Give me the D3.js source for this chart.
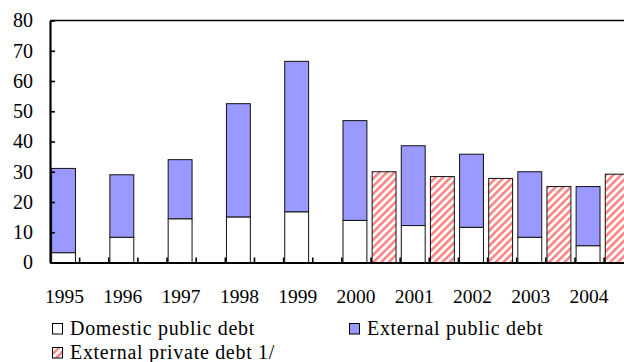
<!DOCTYPE html>
<html>
<head>
<meta charset="utf-8">
<script src="https://cdn.jsdelivr.net/npm/d3@7"></script>
<style>
  html, body { margin: 0; padding: 0; background: #fff; overflow: hidden; }
  svg { display: block; }
  svg text { font-family: 'Liberation Serif', 'Times New Roman', 'DejaVu Serif', serif !important; }
</style>
</head>
<body>
<svg id="chart" width="624" height="362"></svg>
<script>
// Debt stock by year (percent of GDP)
const years = [1995, 1996, 1997, 1998, 1999, 2000, 2001, 2002, 2003, 2004];
const domesticPublic = [3.2, 8.3, 14.4, 15.0, 16.7, 13.9, 12.2, 11.6, 8.3, 5.5];
const externalPublic = [27.9, 20.7, 19.6, 37.5, 49.8, 33.0, 26.4, 24.2, 21.7, 19.6];
const externalPrivate = [null, null, null, null, null, 30.0, 28.4, 27.8, 25.1, 29.2];
const yTicks = [0, 10, 20, 30, 40, 50, 60, 70, 80];
const legendLabels = ["Domestic public debt", "External public debt", "External private debt 1/"];

const SERIF = "'Liberation Serif', 'Times New Roman', 'DejaVu Serif', serif";
const svg = d3.select("#chart").style("font-family", SERIF);

const plot = { left: 50, right: 632.8, top: 20.5, bottom: 262.5 };

// Two slots per year: public (stacked) and private
const slots = d3.range(years.length * 2);
const x = d3.scaleBand().domain(slots).range([plot.left, plot.right]).padding(0);
const step = x.step();
const barOffset = step * 0.055;
const barW = step * 0.82;

const y = d3.scaleLinear().domain([0, 80]).range([plot.bottom, plot.top]);

// Hatch pattern for private debt
const defs = svg.append("defs");
const pat = defs.append("pattern")
  .attr("id", "hatch")
  .attr("patternUnits", "userSpaceOnUse")
  .attr("width", 5.4)
  .attr("height", 10)
  .attr("patternTransform", "rotate(45)");
pat.append("rect").attr("width", 5.4).attr("height", 10).attr("fill", "#fff");
pat.append("rect").attr("width", 2.6).attr("height", 10).attr("fill", "#ff8585");

const FILL_DOM = "#ffffff";
const FILL_EXT = "#9999ff";
const STROKE = "#111";

// Stacked public debt bars
const pub = svg.append("g");
years.forEach((yr, i) => {
  const bx = x(i * 2) + barOffset;
  const d0 = domesticPublic[i];
  const d1 = d0 + externalPublic[i];
  pub.append("rect")
    .attr("x", bx).attr("width", barW)
    .attr("y", y(d1)).attr("height", y(d0) - y(d1))
    .attr("fill", FILL_EXT).attr("stroke", STROKE).attr("stroke-width", 1);
  pub.append("rect")
    .attr("x", bx).attr("width", barW)
    .attr("y", y(d0)).attr("height", y(0) - y(d0))
    .attr("fill", FILL_DOM).attr("stroke", STROKE).attr("stroke-width", 1);
});

// Private debt bars
svg.append("g").selectAll("rect")
  .data(years.map((yr, i) => ({ i, v: externalPrivate[i] })).filter(d => d.v != null))
  .join("rect")
  .attr("x", d => x(d.i * 2 + 1) + barOffset)
  .attr("width", barW)
  .attr("y", d => y(d.v))
  .attr("height", d => y(0) - y(d.v))
  .attr("fill", "url(#hatch)")
  .attr("stroke", STROKE).attr("stroke-width", 1);

// Frame top and right lines
svg.append("line")
  .attr("x1", plot.left).attr("x2", plot.right)
  .attr("y1", plot.top).attr("y2", plot.top)
  .attr("stroke", "#000").attr("stroke-width", 1.6);
svg.append("line")
  .attr("x1", plot.right).attr("x2", plot.right)
  .attr("y1", plot.top).attr("y2", plot.bottom)
  .attr("stroke", "#000").attr("stroke-width", 1.6);

// Y axis with inward ticks
const yAxis = svg.append("g")
  .attr("transform", `translate(${plot.left},0)`)
  .call(d3.axisLeft(y).tickValues(yTicks).tickSizeInner(-5).tickSizeOuter(0).tickPadding(17))
  .attr("font-family", SERIF)
  .attr("font-size", 20);
yAxis.select(".domain").attr("stroke", "#000").attr("stroke-width", 2.2);
yAxis.selectAll(".tick line").attr("stroke", "#000").attr("stroke-width", 1.6);
yAxis.selectAll(".tick text").attr("fill", "#000");

// X axis with inward slot-boundary ticks
const xb = d3.scaleLinear().domain([0, slots.length]).range([plot.left, plot.right]);
const xAxis = svg.append("g")
  .attr("transform", `translate(0,${plot.bottom})`)
  .call(d3.axisBottom(xb).tickValues(d3.range(1, slots.length)).tickSizeInner(-5).tickSizeOuter(0).tickFormat(""));
xAxis.select(".domain").attr("stroke", "#000").attr("stroke-width", 2.2);
xAxis.selectAll(".tick line").attr("stroke", "#000").attr("stroke-width", 1.6);

// Year labels under each public bar
svg.append("g").selectAll("text")
  .data(years)
  .join("text")
  .attr("x", (d, i) => x(i * 2) + barOffset + barW / 2 + 1)
  .attr("y", 303)
  .attr("text-anchor", "middle")
  .attr("font-family", SERIF)
  .attr("font-size", 19.5)
  .attr("fill", "#000")
  .text(d => d);

// Legend
const legendItems = [
  { label: legendLabels[0], fill: FILL_DOM, sx: 52, ty: 335 },
  { label: legendLabels[1], fill: FILL_EXT, sx: 349, ty: 335 },
  { label: legendLabels[2], fill: "url(#hatch)", sx: 52, ty: 359 }
];
const lg = svg.append("g").selectAll("g").data(legendItems).join("g");
lg.append("rect")
  .attr("x", d => d.sx + 0.5).attr("y", d => d.ty - 11.5)
  .attr("width", 10).attr("height", 10.5)
  .attr("fill", d => d.fill)
  .attr("stroke", "#000").attr("stroke-width", 1);
lg.append("text")
  .attr("x", d => d.sx + 18)
  .attr("y", d => d.ty)
  .attr("font-family", SERIF)
  .attr("font-size", 20)
  .attr("letter-spacing", 0.7)
  .attr("fill", "#000")
  .text(d => d.label);
</script>
</body>
</html>
